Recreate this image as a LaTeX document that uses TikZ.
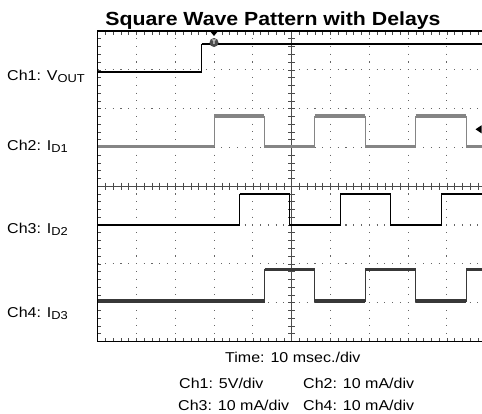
\documentclass[tikz,border=0pt]{standalone}
\usepackage{fontspec}
\setmainfont{Liberation Sans}[FakeStretch=1.12]

\newcommand{\sbs}[1]{\raisebox{-0.3ex}{\fontsize{11.5}{12}\selectfont #1}}

\begin{document}
\begin{tikzpicture}[x=1pt,y=-1pt,
    grid/.style={line width=1.1pt, dash pattern=on 1.1pt off 6.66pt, dash phase=0.55pt, black!60},
    tick/.style={line width=0.6pt, black!70},
    riser/.style={line width=0.9pt},
    lbl/.style={anchor=base west, inner sep=0pt, font=\fontsize{14.3}{16}\selectfont}]

\useasboundingbox (0,0) rectangle (482,413);

\def\gx{97.7}\def\gy{31}\def\dv{38.8}\def\mn{7.76}
\def\gr{485.7}\def\gb{341.4}\def\hp{50.4}

\begin{scope}
\clip (0,0) rectangle (482,413);

% dotted graticule
\foreach \i in {1,...,9}
    \draw[grid] ({\gx+\i*\dv},\gy) -- ({\gx+\i*\dv},\gb);
\foreach \j in {1,...,7}
    \draw[grid] (\gx,{\gy+\j*\dv}) -- (\gr,{\gy+\j*\dv});

% centre axes with minor ticks
\draw[tick] (291.7,\gy) -- (291.7,\gb);
\draw[tick] (\gx,186.2) -- (\gr,186.2);
\foreach \k in {1,...,39} {
    \draw[tick] (288.2,{\gy+\k*\mn}) -- (295.2,{\gy+\k*\mn});
    \draw[tick] (\gx,{\gy+\k*\mn}) -- ({\gx+3.5},{\gy+\k*\mn});
}
\foreach \k in {1,...,49} {
    \draw[tick] ({\gx+\k*\mn},182.7) -- ({\gx+\k*\mn},189.7);
    \draw[tick] ({\gx+\k*\mn},\gy) -- ({\gx+\k*\mn},{\gy+3.5});
    \draw[tick] ({\gx+\k*\mn},\gb) -- ({\gx+\k*\mn},{\gb-3.5});
}

\draw[line width=1.3pt] (\gr,\gy) -- (\gx,\gy) -- (\gx,\gb) -- (\gr,\gb);

% Ch1
\draw[riser] (201.7,71.7) -- (201.7,44);
\draw[line width=2.3pt] (\gx,71.7) -- (201.7,71.7);
\draw[line width=2.3pt] (201.7,44) -- (490,44);

% Ch2, Ch3, Ch4: first rise, high level, low level, colour, width
\foreach \t/\hi/\lo/\col/\w in {214/116/146.7/black!48/3.4, 239.5/194/225/black/2.5, 264.5/269.3/301/black!78/3.4} {
    \draw[riser, \col] (\gx,\lo) -- (\t,\lo)
        \foreach \m in {1,2,3} { -- ++(0,\hi-\lo) -- ++(\hp,0) -- ++(0,\lo-\hi) -- ++(\hp,0) };
    \draw[\col, line width=\w pt] (\gx,\lo) -- (\t,\lo);
    \foreach \m in {0,1,2} {
        \draw[\col, line width=\w pt] ({\t+2*\m*\hp},\hi) -- ++(\hp,0);
        \draw[\col, line width=\w pt] ({\t+(2*\m+1)*\hp},\lo) -- ++(\hp,0);
    }
}

% trigger and ground markers
\fill (209.5,30.5) -- (218.5,30.5) -- (214,36) -- cycle;
\node[circle, fill=black!70, inner sep=0pt, minimum size=9pt, text=white,
      font=\fontsize{6.5}{6.5}\selectfont\bfseries] (trig) at (214,42.5) {T};
\fill (475.5,129.3) -- (481.5,125.3) -- (481.5,133.3) -- cycle;
\end{scope}

% labels
\node[anchor=base, inner sep=0pt, font=\fontsize{19}{20}\selectfont\bfseries] (title) at (273,25.3) {Square Wave Pattern with Delays};

\node[lbl] (ch1) at (7,80.7) {Ch1: V\sbs{OUT}};
\node[lbl] (ch2) at (7,150.7) {Ch2: I\sbs{D1}};
\node[lbl] (ch3) at (7,233.3) {Ch3: I\sbs{D2}};
\node[lbl] (ch4) at (7,317.7) {Ch4: I\sbs{D3}};

\node[lbl] (time) at (225,362.7) {Time: 10 msec./div};
\node[lbl] (sc1) at (179,388) {Ch1: 5V/div};
\node[lbl] (sc2) at (303,388) {Ch2: 10 mA/div};
\node[lbl] (sc3) at (178,410) {Ch3: 10 mA/div};
\node[lbl] (sc4) at (303,410) {Ch4: 10 mA/div};

\end{tikzpicture}
\end{document}
